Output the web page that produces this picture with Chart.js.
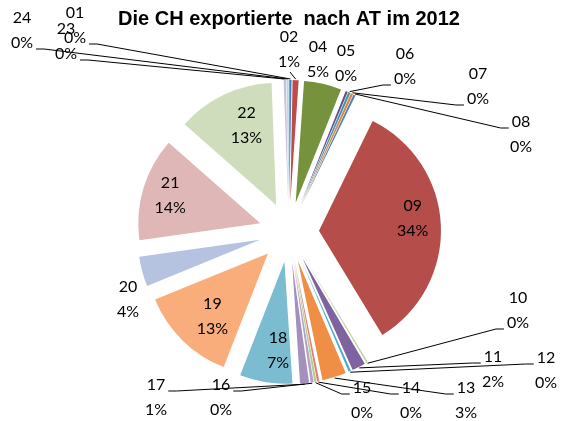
<!DOCTYPE html>
<html>
<head>
<meta charset="utf-8">
<script src="https://cdn.jsdelivr.net/npm/chart.js@4"></script>
<style>
  body { margin: 0; background: #fff; }
</style>
</head>
<body>
<canvas id="pie" width="564" height="421"></canvas>
<script>
// export shares by chapter (no chapter 03 in the source sheet)
const categories = ['01', '02', '04', '05', '06', '07', '08', '09', '10', '11', '12', '13',
                    '14', '15', '16', '17', '18', '19', '20', '21', '22', '23', '24'];
const shares = [0.3, 0.8, 5.0, 0.3, 0.3, 0.3, 0.3, 34.3, 0.2, 1.8, 0.3, 3.2,
                0.3, 0.3, 0.4, 1.2, 7.0, 13.0, 4.0, 13.8, 13.0, 0.3, 0.3];
const sliceColors = ['#4a7ebb', '#be4b48', '#76923c', '#664e8a', '#3e96b0', '#e6812f', '#4a82c4',
                     '#b54d4a', '#b9d08f', '#7f63a1', '#4bacc6', '#ee8f45', '#d9827f', '#b5cd85',
                     '#b3a2c7', '#a390bd', '#7cbcd1', '#f9ad7b', '#b5c3e0', '#deb7b6', '#d0ddbd',
                     '#c7bedb', '#b6d9e6'];

const pieRadius = 122;
const explodePx = 30;
const labelFont = '16px Lato';

// where each data label sits: inside the slice (with a small nudge),
// or text x/y + side the leader line leaves from + which text row it hangs off
const labelSpots = {
  '01': [75, 13, 'r', 1], '02': [289, 37, 'b', 1], '04': [318, 47, '', 0],
  '05': [346, 51, '', 0], '06': [405, 54, 'l', 1], '07': [478, 74, 'l', 1],
  '08': [521, 122, 'l', 0], '09': ['in', 6, -8], '10': [518, 298, 'l', 1],
  '11': [493, 357, 'l', 0], '12': [546, 358, 'l', 0], '13': [466, 388, 'l', 0],
  '14': [411, 388, 'l', 0], '15': [362, 388, 'l', 0], '16': [221, 385, 'r', 0],
  '17': [156, 385, 'r', 0], '18': ['in', 7, 2], '19': ['in', 6, 0], '20': [128, 287, '', 0],
  '21': ['in', -6, -3], '22': ['in', 8, 0], '23': [66, 29, 'r', 1], '24': [22, 18, 'r', 1]
};

const explodedPie = {
  id: 'explodedPie',
  // every slice pulled out by the same distance, like Excel's point explosion
  beforeDatasetDraw(chart, args) {
    const ctx = chart.ctx;
    args.meta.data.forEach(arc => {
      const mid = (arc.startAngle + arc.endAngle) / 2;
      ctx.save();
      ctx.translate(Math.cos(mid) * explodePx, Math.sin(mid) * explodePx);
      arc.draw(ctx);
      ctx.restore();
    });
    return false;
  },
  afterDatasetsDraw(chart) {
    const ctx = chart.ctx;
    const meta = chart.getDatasetMeta(0);
    const total = shares.reduce((a, b) => a + b, 0);
    ctx.save();
    ctx.font = labelFont;
    ctx.fillStyle = '#000';
    ctx.strokeStyle = '#000';
    ctx.lineWidth = 1;
    ctx.textAlign = 'center';
    ctx.textBaseline = 'middle';
    meta.data.forEach((arc, i) => {
      const mid = (arc.startAngle + arc.endAngle) / 2;
      const cos = Math.cos(mid), sin = Math.sin(mid);
      const tipX = arc.x + cos * explodePx;
      const tipY = arc.y + sin * explodePx;
      const lines = [categories[i], Math.round(shares[i] / total * 100) + '%'];
      const spot = labelSpots[categories[i]];
      if (spot[0] === 'in') {
        const lx = tipX + cos * pieRadius * 0.72 + spot[1];
        const ly = tipY + sin * pieRadius * 0.72 + spot[2];
        ctx.fillText(lines[0], lx, ly - 12.5);
        ctx.fillText(lines[1], lx, ly + 12.5);
        return;
      }
      const [x, y, side, row] = spot;
      ctx.fillText(lines[0], x, y);
      ctx.fillText(lines[1], x, y + 25);
      if (!side) return;
      const ex = tipX + cos * (pieRadius + 1);
      const ey = tipY + sin * (pieRadius + 1);
      ctx.beginPath();
      if (side === 'b') {
        ctx.moveTo(x + 1, y + 35);
        ctx.lineTo(ex, ey);
      } else {
        const half = ctx.measureText(lines[row]).width / 2 + 3;
        const dir = side === 'l' ? -1 : 1;
        const sx = x + dir * half;
        const sy = y + row * 25 + 6;
        ctx.moveTo(sx, sy);
        ctx.lineTo(sx + dir * 8, sy);
        ctx.lineTo(ex, ey);
      }
      ctx.stroke();
    });
    ctx.restore();
  }
};

new Chart(document.getElementById('pie'), {
  type: 'pie',
  data: {
    labels: categories,
    datasets: [{
      data: shares,
      backgroundColor: sliceColors,
      borderWidth: 0
    }]
  },
  options: {
    responsive: false,
    animation: false,
    events: [],
    radius: pieRadius,
    layout: { padding: { left: 14, right: 0, top: 1, bottom: 0 } },
    plugins: {
      legend: { display: false },
      tooltip: { enabled: false },
      title: {
        display: true,
        text: 'Die CH exportierte  nach AT im 2012',
        color: '#000',
        font: { family: 'Liberation Sans', size: 20, weight: 'bold' },
        padding: { top: 6, bottom: 12 }
      }
    }
  },
  plugins: [explodedPie]
});
</script>
</body>
</html>
